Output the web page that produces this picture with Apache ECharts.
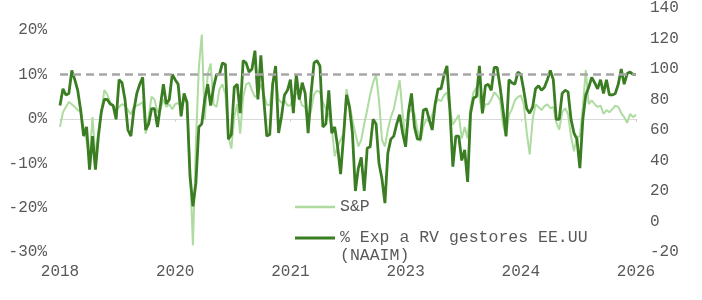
<!DOCTYPE html>
<html>
<head>
<meta charset="utf-8">
<script src="https://cdn.jsdelivr.net/npm/echarts@6/dist/echarts.min.js"></script>
<style>
html,body{margin:0;padding:0;background:#fff;}
#chart{width:702px;height:300px;}
</style>
</head>
<body>
<div id="chart"></div>
<script>
// Biweekly observations starting 2018-07-16
var startDate = '2018-07-16';
var stepDays = 14;
var xTickLabels = ['2018', '2020', '2021', '2023', '2024', '2026'];
var labelEvery = 39;

// S&P (% , left axis)
var spValues = [
  -1.8, 1.5, 2.7, 3.8, 3.3, 2.7, 2, 1.5, -1.8, -5,
  -9, 0.4, -8.5, -3, 1.5, 6.5, 5.5, 3.8, 3, 2,
  2.7, 3.3, 3, 2, 1, 2.7, 3, 3.3, 3.8, -3.3,
  0.4, 5, 4.4, 1.5, 2.2, 4.4, 2.7, 3.3, 2.2, 3.3,
  3.6, 2.7, 4, 4.2, -10.7, -28.5, -5.5, 11.5, 19, -0.2,
  10, 12.5, 3.3, 2.7, 6.7, 7.8, 5.5, -4, -6.7, 0.4,
  3.3, -3.3, 4.9, 7.8, 8.2, 6.4, 4.9, 5.5, 7.8, 5.5,
  3.3, 3, 8.2, 9.8, 4.4, 3.6, 4.2, 3, 3, 4.9,
  6, 4.9, 3, 2.7, -1.1, 2, 5.5, 6.4, 6, 3.8,
  2.2, 0.9, -1.8, -8.4, -6.2, -4.7, -3.3, 6.7, 3.3, -0.2,
  -3.3, -6.2, -4.7, -1.1, 2, 5.5, 8.2, 10, 4.2, -4.7,
  -6.2, -2.4, 0.4, 2.2, 5.5, 8.7, 1.1, -4.7, 1.1, 2.2,
  1.1, -2.4, -5.1, -1.8, 0, -0.7, 0.9, 3.3, 4.4, 4,
  5.3, 6, 2, -1.3, -0.2, 0.9, -4.4, -1.8, -4.4, 2.7,
  6, 7.1, 4.9, 1.1, 3.3, 3.3, 4.4, 6, 5.3, 4.2,
  -1.3, -4, 0.9, 2.2, 4.2, 4.9, 5.3, 3.3, -3, -8,
  -0.2, 3.3, 2.7, 2, 2.9, 3.3, 2.4, 2.7, -0.7, -2.4,
  1.5, 2.4, 1.1, -4, -7.3, -4, -4, 2.7, 11, 3.3,
  4.2, 3.3, 2.7, 3, 1.1, 2, 1.5, 2.2, 3, 2.7,
  1.3, 0.4, -0.9, 1.1, 0.4, 0.9
];

// NAAIM exposure index (right axis)
var naaimValues = [
  76, 87, 83, 84, 99, 93, 86, 73, 56, 62,
  34, 56, 34, 56, 72, 80, 80, 77, 76, 67,
  93, 91, 80, 60, 56, 73, 84, 90, 94.5, 60,
  64, 74, 74, 62, 76, 90, 77, 80, 96.5, 93,
  90, 69, 84, 78, 30, 10, 25, 62, 64, 80,
  90, 76, 88, 96.5, 96.5, 104, 103, 54, 57, 88,
  90, 71, 105.5, 104, 98, 100, 112, 80, 109, 80,
  56, 57, 90, 102, 58, 69, 83, 86, 93, 71,
  96.5, 80, 91, 84, 58, 84, 104, 105.5, 102, 62,
  64, 86, 58, 62, 49, 31, 56, 83, 75, 58,
  20, 35, 42, 20, 48, 49, 67, 64, 38, 28,
  12, 45, 54, 56, 64, 70, 58, 49, 72, 84,
  62, 54, 54, 73, 74, 67, 60, 77, 87, 87,
  96, 102, 73, 36, 56, 56, 40, 47, 26, 71,
  81, 82, 102, 71, 89, 90, 86, 101, 101, 88,
  73, 56, 93, 91, 90, 98, 96.5, 86, 74, 71,
  75, 87, 89, 86, 88, 93, 99, 93, 67, 67,
  84, 86, 85, 67, 58, 54, 35, 67, 83, 88,
  94.5, 91, 87, 93, 84, 93, 83, 83, 84, 90,
  100, 90, 97, 98, 96.5, 96.5
];

var refLevel = 10;

var categories = [];
(function () {
  var t0 = new Date(startDate + 'T00:00:00Z').getTime();
  for (var i = 0; i < naaimValues.length; i++) {
    categories.push(new Date(t0 + i * stepDays * 86400000).toISOString().slice(0, 10));
  }
})();

var FONT = 'Liberation Mono';
var TXT = '#595959';
var LIGHT = '#aedb9f';
var DARK = '#3b7d23';
var NAME1 = 'S&P';
var NAME2 = '% Exp a RV gestores EE.UU (NAAIM)';

var chart = echarts.init(document.getElementById('chart'), null, {renderer: 'canvas'});
chart.setOption({
  animation: false,
  backgroundColor: '#ffffff',
  grid: {left: 60, right: 66, top: 5, bottom: 48, containLabel: false},
  legend: [
    {
      data: [{name: NAME1, icon: 'rect'}],
      orient: 'vertical', left: 295, top: 198, padding: 0,
      itemWidth: 40, itemHeight: 2.5, itemStyle: {color: LIGHT},
      textStyle: {fontFamily: FONT, fontSize: 16.5, color: TXT, lineHeight: 18}
    },
    {
      data: [{name: NAME2, icon: 'rect'}],
      orient: 'vertical', left: 295, top: 211, padding: 0,
      itemWidth: 40, itemHeight: 3, itemStyle: {color: DARK},
      formatter: function (n) { return ' \n' + n.replace(' (', '\n('); },
      textStyle: {fontFamily: FONT, fontSize: 16.5, color: TXT, lineHeight: 18}
    }
  ],
  xAxis: [
    {
      type: 'category', data: categories, boundaryGap: false,
      axisLine: {show: false, onZero: false},
      axisTick: {show: false},
      splitLine: {show: false},
      axisLabel: {
        interval: labelEvery - 1, margin: 12,
        fontFamily: FONT, fontSize: 16, color: TXT,
        formatter: function (v, idx) { return xTickLabels[Math.round(idx / labelEvery)] || ''; }
      }
    },
    {
      type: 'category', data: categories, boundaryGap: false, position: 'bottom',
      axisLine: {show: true, onZero: true, onZeroAxisIndex: 0, lineStyle: {color: '#d9d9d9', width: 1}},
      axisTick: {show: true, interval: labelEvery - 1, length: 3, lineStyle: {color: '#d0d0d0'}},
      axisLabel: {show: false},
      splitLine: {show: false}
    }
  ],
  yAxis: [
    {
      type: 'value', position: 'left', min: -30, max: 25, interval: 10,
      axisLine: {show: false}, axisTick: {show: false}, splitLine: {show: false},
      axisLabel: {
        margin: 13, fontFamily: FONT, fontSize: 16, color: TXT, showMaxLabel: false,
        formatter: function (v) { return v > 20 ? '' : v + '%'; }
      }
    },
    {
      type: 'value', position: 'right', min: -20, max: 140, interval: 20,
      axisLine: {show: false}, axisTick: {show: false}, splitLine: {show: false},
      axisLabel: {margin: 14, fontFamily: FONT, fontSize: 16, color: TXT}
    }
  ],
  series: [
    {
      name: NAME1, type: 'line', xAxisIndex: 0, yAxisIndex: 0,
      data: spValues, symbol: 'none', smooth: false,
      color: LIGHT,
      lineStyle: {color: LIGHT, width: 2},
      markLine: {
        silent: true, symbol: 'none', label: {show: false},
        lineStyle: {color: '#a6a6a6', type: [8, 5], width: 2.5},
        data: [{yAxis: refLevel}]
      }
    },
    {
      name: NAME2, type: 'line', xAxisIndex: 0, yAxisIndex: 1,
      data: naaimValues, symbol: 'none', smooth: false,
      color: DARK,
      lineStyle: {color: DARK, width: 2.8}
    }
  ]
});
</script>
</body>
</html>
